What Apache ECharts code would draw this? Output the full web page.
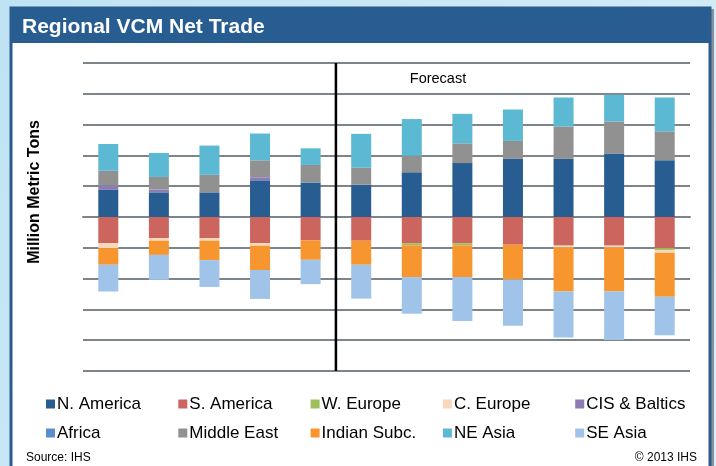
<!DOCTYPE html>
<html>
<head>
<meta charset="utf-8">
<script src="https://cdn.jsdelivr.net/npm/echarts@6/dist/echarts.min.js"></script>
<style>
  html, body { margin: 0; padding: 0; }
  #chart { width: 716px; height: 466px; }
</style>
</head>
<body>
<div id="chart"></div>
<script>
// years are not printed on the chart, forecast starts at the 6th bar
var years = ['2008', '2009', '2010', '2011', '2012', '2013', '2014', '2015', '2016', '2017', '2018', '2019'];

// million metric tons, exports positive / imports negative
var nAmerica   = [8.8, 8.0, 8.0, 11.9, 11.2, 10.5, 14.5, 17.5, 19.0, 19.0, 20.6, 18.4];
var sAmerica   = [-8.5, -6.9, -6.9, -8.5, -7.6, -7.7, -8.5, -8.5, -9.0, -9.3, -9.3, -10.1];
var wEurope    = [0, 0, 0, 0, 0, 0, -0.7, -0.7, 0, 0, 0, -0.6];
var cEurope    = [-1.6, -0.8, -0.8, -0.8, 0, 0, 0, 0, 0, -0.6, -0.6, -0.9];
var cisBaltics = [1.5, 0.9, 0, 1.0, 0, 0, 0, 0, 0, 0, 0, 0];
var africa     = [0, 0, 0, 0, 0, 0, 0, 0, 0, 0, 0, 0];
var middleEast = [4.7, 4.1, 5.7, 5.5, 5.7, 5.5, 5.4, 6.4, 5.7, 10.4, 10.4, 9.4];
var indianSubc = [-5.4, -4.6, -6.3, -7.9, -6.3, -7.8, -10.3, -10.3, -11.3, -14.3, -14.3, -14.3];
var neAsia     = [8.7, 7.8, 9.5, 8.7, 5.4, 11.0, 11.9, 9.6, 10.2, 9.4, 8.7, 11.0];
var seAsia     = [-8.7, -8.1, -8.7, -9.4, -7.9, -11.0, -11.9, -14.3, -15.0, -14.9, -15.7, -12.5];

var regionNames = ['N. America', 'S. America', 'W. Europe', 'C. Europe', 'CIS & Baltics',
                   'Africa', 'Middle East', 'Indian Subc.', 'NE Asia', 'SE Asia'];
var regionData = [nAmerica, sAmerica, wEurope, cEurope, cisBaltics,
                  africa, middleEast, indianSubc, neAsia, seAsia];
var regionColors = ['#285d91', '#cc655e', '#9fbf5e', '#fad8bc', '#8d7bb4',
                    '#5b8fcc', '#919191', '#f7952f', '#5bb9d3', '#a0c3ea'];

// the forecast divider sits on the boundary after the 5th bar
var forecastStart = 5;

var FONT = 'Liberation Sans, Arial, sans-serif';
var gridColor = '#7d858b';

var chart = echarts.init(document.getElementById('chart'));

var series = regionNames.map(function (name, i) {
  return {
    name: name,
    type: 'bar',
    stack: 'trade',
    barWidth: 20,
    itemStyle: { color: regionColors[i] },
    data: regionData[i]
  };
});

series.push({
  name: 'forecast',
  type: 'line',
  xAxisIndex: 1,
  symbol: 'none',
  silent: true,
  lineStyle: { color: '#000', width: 2.5 },
  data: [[forecastStart, -50], [forecastStart, 50]],
  z: 5
});

// legend: 5 columns x 2 rows
var legends = regionNames.map(function (name, i) {
  var col = i % 5, row = Math.floor(i / 5);
  return {
    data: [name],
    left: 46 + col * 132.3,
    top: 395.5 + row * 29,
    padding: 0,
    icon: 'rect',
    itemWidth: 9,
    itemHeight: 9,
    selectedMode: false,
    textStyle: { fontFamily: FONT, fontSize: 17, color: '#000', padding: [0, 0, 0, -3] }
  };
});

chart.setOption({
  animation: false,
  backgroundColor: {
    type: 'linear', x: 0, y: 0, x2: 1, y2: 1,
    colorStops: [{ offset: 0, color: '#bfe3f4' }, { offset: 1, color: '#d9eef8' }]
  },
  graphic: [
    { type: 'rect', z: -10, shape: { x: 711, y: 9, width: 3, height: 460 }, style: { fill: '#8a9096' } },
    { type: 'rect', z: -9, shape: { x: 11, y: 8, width: 699, height: 470 },
      style: { fill: '#fff', stroke: '#2a5b8c', lineWidth: 3 } },
    { type: 'rect', z: -8, shape: { x: 11, y: 8, width: 699, height: 35 }, style: { fill: '#285d91' } },
    { type: 'text', z: 10, x: 22, y: 27,
      style: { text: 'Regional VCM Net Trade', fill: '#fff', font: 'bold 21px ' + FONT, verticalAlign: 'middle' } },
    { type: 'text', z: 10, x: 35, y: 192, rotation: Math.PI / 2,
      style: { text: 'Million Metric Tons', fill: '#000', font: 'bold 16px ' + FONT, align: 'center', verticalAlign: 'middle' } },
    { type: 'text', z: 10, x: 438, y: 79,
      style: { text: 'Forecast', fill: '#000', font: '14.5px ' + FONT, align: 'center', verticalAlign: 'middle' } },
    { type: 'text', z: 10, x: 26, y: 458,
      style: { text: 'Source: IHS', fill: '#000', font: '12px ' + FONT, verticalAlign: 'middle' } },
    { type: 'text', z: 10, x: 697, y: 458,
      style: { text: '\u00a9 2013 IHS', fill: '#000', font: '12px ' + FONT, align: 'right', verticalAlign: 'middle' } }
  ],
  legend: legends,
  grid: { left: 83, right: 26, top: 63, bottom: 95 },
  xAxis: [{
    type: 'category',
    data: years,
    axisLine: { onZero: true, lineStyle: { color: gridColor, width: 2 } },
    axisTick: { length: 3, lineStyle: { color: gridColor, width: 2 } },
    axisLabel: { show: false },
    splitLine: { show: false }
  }, {
    type: 'value',
    min: 0,
    max: years.length,
    show: false
  }],
  yAxis: {
    type: 'value',
    min: -50,
    max: 50,
    interval: 10,
    axisLine: { show: false },
    axisTick: { show: false },
    axisLabel: { show: false },
    splitLine: { lineStyle: { color: gridColor, width: 2 } }
  },
  series: series
});
</script>
</body>
</html>
